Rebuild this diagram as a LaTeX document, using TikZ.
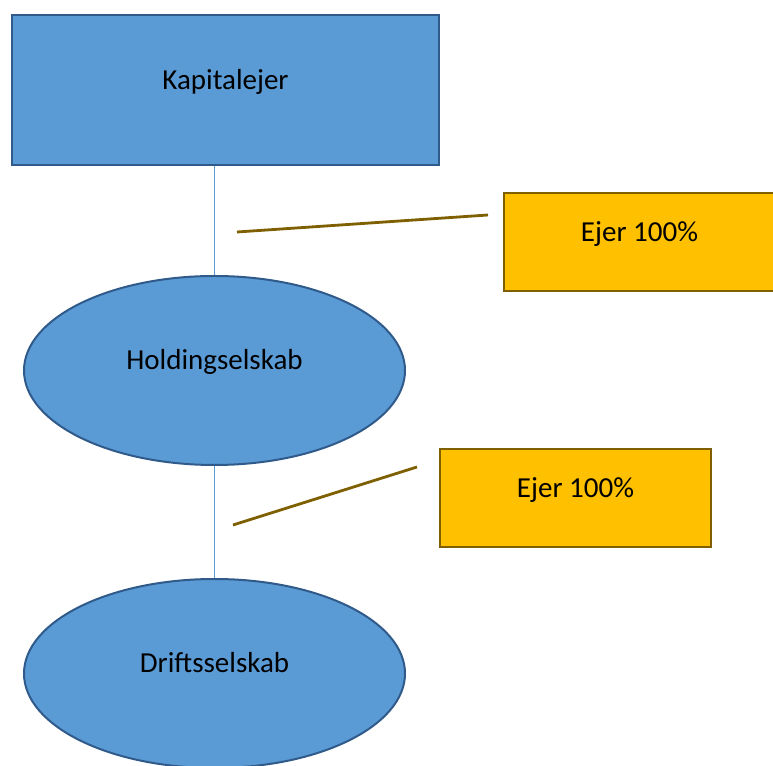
\documentclass[tikz,border=0pt]{standalone}
\usepackage{fontspec}
\setmainfont{Carlito}
\usetikzlibrary{shapes.geometric}
\definecolor{blaa}{HTML}{5B9BD5}
\definecolor{moerkblaa}{HTML}{2F5A8A}
\definecolor{guld}{HTML}{FFC000}
\definecolor{brun}{HTML}{7F6000}
\begin{document}
\begin{tikzpicture}[x=1pt,y=1pt,
	tekst/.style={font=\fontsize{29}{35}\selectfont,text height=19pt,text depth=20pt,inner sep=0pt},
	selskab/.style={tekst,ellipse,draw=moerkblaa,line width=2pt,fill=blaa,minimum width=381pt,minimum height=189pt},
	andel/.style={tekst,rectangle,draw=brun,line width=2.5pt,fill=guld,minimum width=271pt,minimum height=98pt},
	streg/.style={brun,line width=2.8pt}]
	\path[use as bounding box,clip] (0,0) rectangle (773,765); % billedets kant
	\node[tekst,rectangle,draw=moerkblaa,line width=2.8pt,fill=blaa,minimum width=427pt,minimum height=150pt] (kap) at (225.5,675) {Kapitalejer};
	\node[selskab] (hold) at (214.5,394.5) {Holdingselskab};
	\node[selskab] (drift) at (214.5,91.5) {Driftsselskab};
	\node[andel] (ejer1) at (639.5,523) {Ejer 100\%};
	\node[andel] (ejer2) at (575.5,267) {Ejer 100\%};
	\draw[blaa,line width=1pt] (kap.south -| hold.north) -- (hold.north) (hold.south) -- (drift.north);
	\coordinate (a1) at (237,533); \coordinate (b1) at (488,550);
	\coordinate (a2) at (233,240); \coordinate (b2) at (417,298);
	\draw[streg] (a1) -- (b1) (a2) -- (b2); % ejerandele
\end{tikzpicture}
\end{document}
